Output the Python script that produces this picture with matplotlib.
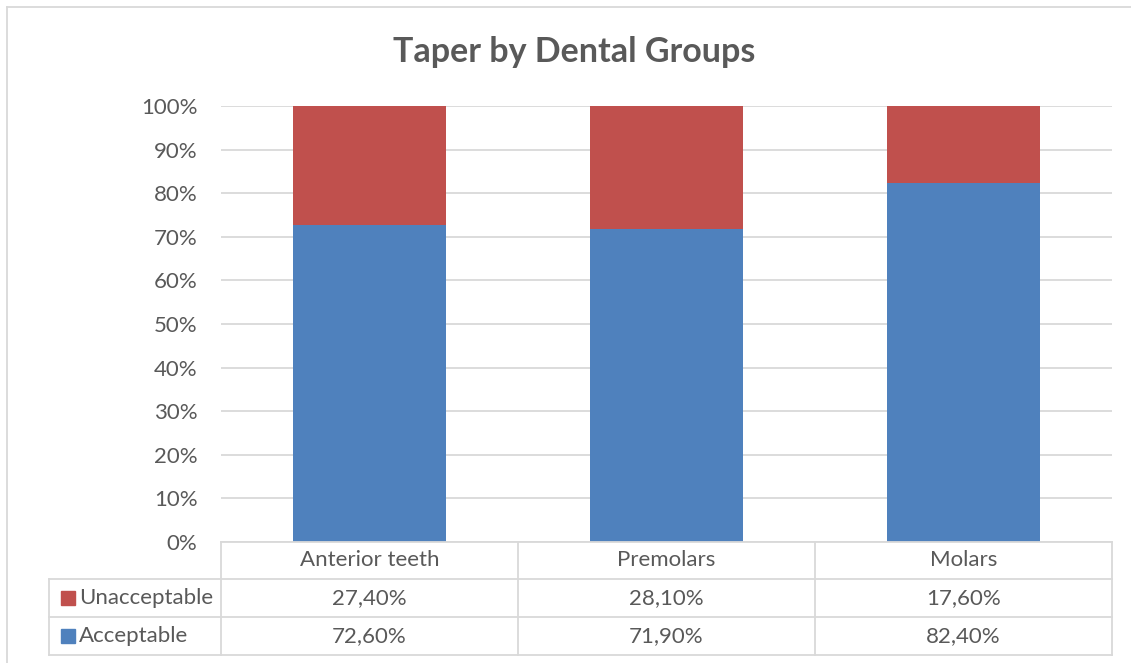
import matplotlib.pyplot as plt
from matplotlib.lines import Line2D
from matplotlib.patches import Rectangle

plt.rcParams['font.family'] = ['Lato', 'DejaVu Sans']

categories = ['Anterior teeth', 'Premolars', 'Molars']
acceptable = [72.6, 71.9, 82.4]
unacceptable = [27.4, 28.1, 17.6]
series_names = ['Unacceptable', 'Acceptable']

BLUE = '#4F81BD'
RED = '#C0504D'
GRID = '#D9D9D9'
TEXT = '#595959'
FS = 16

W, H = 1131, 663
fig = plt.figure(figsize=(W / 100, H / 100), dpi=100)


def fx(px):
    return px / W


def fy(py):
    return 1 - py / H


# plot area in pixel bounds
left, right, top, bottom = 221, 1112, 106, 542
ax = fig.add_axes([fx(left), fy(bottom), fx(right - left), (bottom - top) / H])

x = range(len(categories))
ax.bar(x, acceptable, width=0.515, color=BLUE, zorder=3)
ax.bar(x, unacceptable, width=0.515, bottom=acceptable, color=RED, zorder=3)

ax.set_xlim(-0.5, len(categories) - 0.5)
ax.set_ylim(0, 100)
ax.set_yticks(range(0, 101, 10))
ax.set_yticklabels([f'{v}%' for v in range(0, 101, 10)])
ax.yaxis.grid(True, color=GRID, linewidth=1.3, zorder=0)
ax.set_xticks([])
ax.tick_params(axis='y', length=0, pad=17, labelsize=FS, labelcolor=TEXT)
for s in ax.spines.values():
    s.set_visible(False)

fig.text(fx(574), fy(52), 'Taper by Dental Groups', ha='center', va='center',
         fontsize=24.5, fontweight='bold', color=TEXT)

# data table under the plot
col_edges = [left + i * (right - left) / 3 for i in range(4)]
row_edges = [542, 579, 617, 655]
label_left = 49

lw = 1.3
fig.add_artist(Line2D([fx(left), fx(right)], [fy(row_edges[0])] * 2, color=GRID, lw=lw))
for yy in row_edges[1:]:
    fig.add_artist(Line2D([fx(label_left), fx(right)], [fy(yy)] * 2, color=GRID, lw=lw))
for xx in col_edges:
    fig.add_artist(Line2D([fx(xx)] * 2, [fy(row_edges[0]), fy(row_edges[-1])], color=GRID, lw=lw))
fig.add_artist(Line2D([fx(label_left)] * 2, [fy(row_edges[1]), fy(row_edges[-1])], color=GRID, lw=lw))

centers = [(col_edges[i] + col_edges[i + 1]) / 2 for i in range(3)]
row_mid = [(row_edges[i] + row_edges[i + 1]) / 2 for i in range(3)]

for cx, name in zip(centers, categories):
    fig.text(fx(cx), fy(row_mid[0]), name, ha='center', va='center', fontsize=FS, color=TEXT)

rows = [(series_names[0], RED, unacceptable), (series_names[1], BLUE, acceptable)]
for (name, color, vals), ym in zip(rows, row_mid[1:]):
    fig.add_artist(Rectangle((fx(61), fy(ym + 7)), 14 / W, 14 / H, color=color,
                             transform=fig.transFigure))
    fig.text(fx(79), fy(ym), name, ha='left', va='center', fontsize=FS, color=TEXT)
    for cx, v in zip(centers, vals):
        fig.text(fx(cx), fy(ym), f'{v:.2f}%'.replace('.', ','), ha='center', va='center',
                 fontsize=FS, color=TEXT)

# chart frame
fig.add_artist(Line2D([fx(7), fx(W)], [fy(7)] * 2, color=GRID, lw=lw))
fig.add_artist(Line2D([fx(7)] * 2, [fy(7), 0], color=GRID, lw=lw))

fig.savefig('out.png', dpi=100)
